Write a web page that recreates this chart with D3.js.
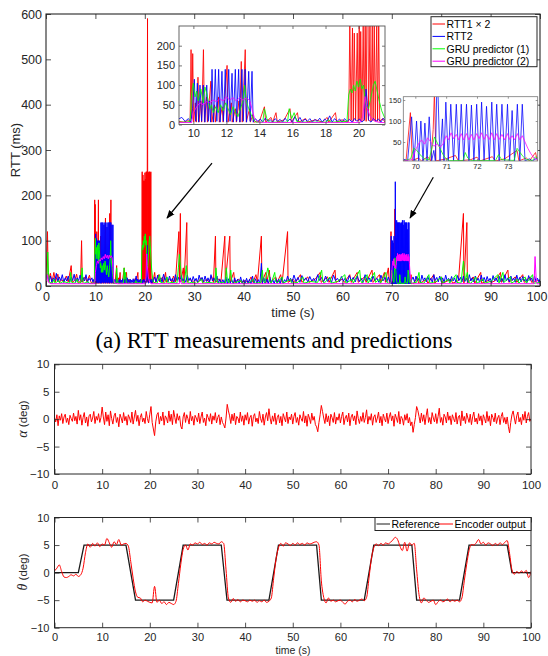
<!DOCTYPE html>
<html>
<head>
<meta charset="utf-8">
<script src="https://cdn.jsdelivr.net/npm/d3@7"></script>
<style>
body { margin: 0; background: #fff; }
svg { display: block; font-family: "Liberation Sans", Arial, sans-serif; }
</style>
</head>
<body>
<script>
'use strict';

// ---- (a) RTT measurements, [time s, RTT ms] ----
var rtt1 = [
	[0,12],[0.3,120],[0.45,10],[0.9,28],[1.2,8],[1.6,30],[1.9,9],[2.4,26],[2.7,8],[3.2,14],[3.6,8],[4.1,22],[4.5,9],[5.1,45],[5.3,8],[5.8,12],[6.2,26],[6.5,8],[7.0,10],[7.2,100],[7.35,8],[7.9,20],[8.3,9],[8.8,24],[9.1,8],
	[9.4,6],[9.7,10],[9.8,5],[9.86,190],[9.91,15],[9.96,180],[10.02,6],[10.12,55],[10.18,6],[10.28,120],[10.34,6],[10.45,60],[10.5,6],[10.61,190],[10.67,6],[10.8,70],[10.85,6],[11.06,110],[11.12,6],[11.28,50],[11.33,6],[11.52,70],[11.57,6],[11.75,45],[11.8,6],[12.04,150],[12.1,6],[12.3,55],[12.35,6],[12.55,40],[12.6,6],[12.76,60],[12.81,6],[12.9,160],[12.96,6],[13.14,190],[13.2,6],[13.4,40],[13.45,6],[13.6,25],[13.65,6],
	[14.0,8],[14.3,45],[14.38,6],[14.7,18],[14.8,6],[15.0,30],[15.08,6],[15.5,12],[15.85,40],[15.93,6],[16.3,30],[16.38,6],[16.8,15],[16.9,6],[17.4,12],[17.8,6],[18.1,18],[18.2,6],[18.6,30],[18.68,6],[19.0,12],[19.3,6],
	[19.4,8],[19.47,252],[19.55,10],[19.63,245],[19.68,8],[19.74,232],[19.82,10],[19.92,232],[19.98,8],[20.04,250],[20.09,10],[20.13,236],[20.2,8],[20.28,252],[20.34,10],[20.4,252],[20.46,8],[20.55,590],[20.6,10],[20.69,250],[20.75,8],[20.83,252],[20.88,10],[20.95,252],[21.01,8],[21.1,250],[21.15,8],[21.22,252],[21.28,8],[21.45,15],[21.6,6],
	[22.0,30],[22.2,8],[22.8,25],[23.0,9],[23.6,20],[23.8,8],[24.2,30],[24.4,8],[25.0,16],[25.5,8],[25.8,22],[26.2,9],[26.9,120],[27.0,9],[27.2,160],[27.3,9],[27.8,40],[27.95,8],[28.5,140],[28.6,8],[29.2,16],[29.6,8],[30.2,14],[30.8,8],[31.4,18],[31.8,8],[32.5,15],[33.0,8],[33.5,22],[33.9,8],[34.3,110],[34.4,8],[35.0,16],[35.4,8],[36.2,110],[36.3,8],[37.2,110],[37.3,8],[38.0,30],[38.2,8],[39.0,15],[39.5,8],
	[40.3,12],[41.0,8],[41.5,20],[41.9,8],[42.5,25],[42.8,8],[43.6,110],[43.7,8],[44.5,30],[44.7,8],[45.2,35],[45.4,8],[46.5,20],[46.8,8],[47.5,25],[47.8,8],[48.9,120],[49.0,8],[50.0,15],[50.5,8],[51.5,25],[51.8,8],[53.0,20],[53.3,8],[54.5,15],[55.5,30],[55.7,8],[57.0,20],[57.3,8],[58.5,35],[58.7,8],[60.0,15],[60.4,8],[61.5,25],[61.8,8],[63.0,30],[63.2,8],[64.5,20],[64.8,8],[66.0,35],[66.2,8],[67.5,25],[67.8,8],[68.5,30],[68.7,8],[69.3,40],[69.5,8],
	[69.7,6],[69.84,120],[69.9,6],[70.1,12],[70.2,5],[70.4,15],[70.5,5],[70.58,80],[70.62,170],[70.67,5],[71.0,10],[71.3,18],[71.4,5],[71.8,8],[72.0,14],[72.1,5],[72.5,15],[72.6,5],[72.9,10],[73.3,30],[73.36,5],[73.6,12],[73.7,5],[73.9,25],[73.96,5],
	[74.5,6],[75.2,20],[75.4,6],[76.0,8],[77.0,15],[77.3,6],[78.5,25],[78.7,6],[80.0,20],[80.3,6],[82.0,15],[82.3,6],[83.5,12],[84.5,160],[84.6,6],[85.2,140],[85.3,6],[86.5,20],[86.8,6],[88.0,30],[88.2,6],[89.5,12],[90.2,8],[91.0,12],[92.0,30],[92.2,8],[93.5,35],[93.7,8],[95.0,20],[95.3,8],[96.5,25],[96.8,8],[98.0,20],[98.3,8],[99.5,12],[100,10]
];

var rtt2 = [
	[0,15],[0.3,25],[0.6,10],[0.9,22],[1.2,8],[1.5,18],[1.8,12],[2.1,28],[2.4,9],[2.7,20],[3.0,12],[3.3,25],[3.6,8],[3.9,18],[4.2,11],[4.5,22],[4.8,9],[5.1,20],[5.4,12],[5.7,26],[6.0,8],[6.3,18],[6.6,12],[6.9,24],[7.2,9],[7.5,19],[7.8,11],[8.1,25],[8.4,8],[8.7,17],[9.0,12],
	[9.3,18],[9.5,8],[9.7,15],[9.85,6],[9.95,40],[10.06,115],[10.14,8],[10.24,105],[10.32,6],[10.4,100],[10.5,8],[10.6,100],[10.7,6],[10.81,100],[10.9,8],[10.98,60],[11.04,6],[11.13,140],[11.22,6],[11.33,140],[11.42,8],[11.53,140],[11.62,6],[11.73,135],[11.82,8],[11.93,140],[12.02,6],[12.14,140],[12.22,8],[12.34,130],[12.42,6],[12.54,140],[12.62,8],[12.74,140],[12.82,6],[12.94,140],[13.02,8],[13.13,140],[13.22,6],[13.35,135],[13.44,8],[13.55,135],[13.62,6],
	[13.75,15],[13.9,8],[14.05,14],[14.2,6],[14.35,16],[14.5,8],[14.65,12],[14.8,6],[14.95,15],[15.1,8],[15.25,13],[15.4,6],[15.55,16],[15.7,8],[15.85,14],[16.0,6],[16.15,20],[16.3,8],[16.45,18],[16.6,6],[16.75,14],[16.9,8],[17.05,15],[17.2,6],[17.35,13],[17.5,8],[17.65,16],[17.8,6],[17.95,14],[18.1,8],[18.25,22],[18.4,6],[18.55,15],[18.7,8],[18.85,14],[19.0,6],[19.15,15],[19.3,8],[19.45,13],[19.6,6],[19.75,15],[19.9,8],[20.05,14],[20.2,6],[20.35,12],[20.45,90],[20.52,60],[20.6,12],[20.75,6],[20.9,15],[21.05,8],[21.2,14],[21.35,6],[21.5,16],[21.65,8],
	[22.0,20],[22.3,9],[22.6,24],[22.9,11],[23.2,18],[23.5,8],[23.8,26],[24.1,12],[24.4,20],[24.7,9],[25.0,22],[25.3,11],[25.6,17],[25.9,8],[26.2,25],[26.5,12],[26.8,19],[27.1,9],[27.4,23],[27.7,11],[28.0,16],[28.3,8],[28.6,24],[28.9,12],[29.2,18],[29.5,9],[29.8,21],[30.1,11],[30.4,17],[30.7,8],[31.0,24],[31.3,12],[31.6,19],[31.9,9],[32.2,22],[32.5,10],[32.8,18],[33.1,8],[33.4,25],[33.7,11],[34.0,18],[34.3,9],[34.6,22],[34.9,7],
	[35.2,15],[35.5,5],[35.8,14],[36.1,6],[36.4,20],[36.7,5],[37.0,16],[37.3,6],[37.6,14],[37.9,5],[38.2,18],[38.5,6],[38.8,15],[39.1,5],[39.4,20],[39.7,6],[40.0,14],[40.3,5],[40.6,17],[40.9,6],[41.2,15],[41.5,5],[41.8,22],[42.1,6],[42.4,16],[42.7,5],[43.0,14],[43.3,6],[43.6,50],[43.8,5],[44.1,18],[44.4,6],[44.7,15],[45.0,5],[45.3,20],[45.6,6],[45.9,14],[46.2,5],[46.5,17],[46.8,6],[47.1,15],[47.4,5],[47.7,19],[48.0,6],[48.3,14],[48.6,9],[48.9,22],[49.2,11],[49.5,17],[49.8,8],
	[50.2,24],[50.6,10],[51.0,19],[51.4,8],[51.8,23],[52.2,12],[52.6,18],[53.0,9],[53.4,21],[53.8,11],[54.2,17],[54.6,8],[55.0,25],[55.4,12],[55.8,19],[56.2,9],[56.6,22],[57.0,10],[57.4,18],[57.8,8],[58.2,24],[58.6,12],[59.0,17],[59.4,9],[59.8,21],[60.2,11],[60.6,18],[61.0,8],[61.4,23],[61.8,12],[62.2,19],[62.6,9],[63.0,22],[63.4,10],[63.8,17],[64.2,8],[64.6,25],[65.0,11],[65.4,18],[65.8,9],[66.2,22],[66.6,12],[67.0,17],[67.4,8],[67.8,24],[68.2,11],[68.6,19],[69.0,9],[69.3,20],
	[69.6,10],[69.75,5],[69.88,110],[69.96,5],[70.04,100],[70.11,5],[70.18,100],[70.25,5],[70.31,95],[70.38,5],[70.45,110],[70.53,5],[70.6,30],[70.65,5],[70.71,230],[70.8,5],[70.88,105],[70.93,5],[70.99,145],[71.07,5],[71.15,140],[71.24,5],[71.33,140],[71.41,5],[71.49,140],[71.57,5],[71.66,140],[71.74,5],[71.82,138],[71.9,5],[71.99,140],[72.07,5],[72.15,145],[72.23,5],[72.31,135],[72.4,5],[72.48,145],[72.56,5],[72.64,140],[72.72,5],[72.81,140],[72.9,5],[72.99,140],[73.06,5],[73.14,125],[73.22,5],[73.31,140],[73.39,5],[73.47,140],[73.56,5],[73.7,10],[73.8,5],[73.95,12],
	[74.3,20],[74.6,9],[74.9,22],[75.2,11],[75.5,17],[75.8,8],[76.1,24],[76.4,12],[76.7,18],[77.0,9],[77.3,21],[77.6,11],[77.9,17],[78.2,8],[78.5,25],[78.8,12],[79.1,19],[79.4,9],[79.7,22],[80.0,10],[80.3,18],[80.6,8],[80.9,24],[81.2,12],[81.5,17],[81.8,9],[82.1,21],[82.4,11],[82.7,18],[83.0,8],[83.3,23],[83.6,12],[83.9,19],[84.2,9],[84.5,22],[84.8,10],[85.1,17],[85.4,8],[85.7,25],[86.0,11],[86.3,18],[86.6,9],[86.9,22],[87.2,12],[87.5,17],[87.8,8],
	[88.1,24],[88.4,11],[88.7,19],[89.0,9],[89.3,21],[89.6,11],[89.9,17],[90.2,8],[90.5,23],[90.8,12],[91.1,18],[91.4,9],[91.7,22],[92.0,10],[92.3,17],[92.6,8],[92.9,25],[93.2,11],[93.5,18],[93.8,9],[94.1,22],[94.4,12],[94.7,17],[95.0,8],[95.3,24],[95.6,11],[95.9,19],[96.2,9],[96.5,21],[96.8,11],[97.1,17],[97.4,8],[97.7,23],[98.0,12],[98.3,18],[98.6,9],[98.9,22],[99.2,10],[99.5,17],[99.8,9],[100,15]
];

var gru1 = [
	[0,8],[0.2,20],[0.35,75],[0.5,30],[0.7,8],[1.3,6],[1.6,15],[1.8,6],[2.6,12],[2.8,6],[3.5,10],[4.8,6],[5.0,30],[5.2,8],[5.8,6],[6.3,15],[6.5,6],[7.1,8],[7.3,40],[7.5,10],[7.8,6],[8.5,10],[8.7,6],[9.3,6],
	[9.6,6],[9.8,8],[9.9,80],[10.0,105],[10.1,70],[10.2,85],[10.3,60],[10.45,90],[10.6,55],[10.7,95],[10.8,80],[10.9,60],[11.0,40],[11.1,50],[11.2,30],[11.35,45],[11.5,30],[11.65,50],[11.8,35],[11.95,55],[12.1,40],[12.25,25],[12.4,45],[12.55,30],[12.7,20],[12.85,40],[13.0,60],[13.1,100],[13.2,60],[13.35,40],[13.5,25],[13.65,12],[13.8,6],
	[14.2,6],[14.3,40],[14.45,15],[14.6,6],[15.7,6],[15.8,40],[15.95,15],[16.1,30],[16.25,8],[16.5,6],[18.0,6],[18.2,12],[18.35,6],[19.3,8],
	[19.4,75],[19.5,90],[19.6,80],[19.7,100],[19.8,85],[19.9,110],[20.0,95],[20.1,115],[20.2,90],[20.3,100],[20.4,60],[20.5,45],[20.6,40],[20.7,60],[20.8,80],[20.9,100],[21.0,110],[21.1,90],[21.25,60],[21.4,35],[21.6,15],[21.8,8],
	[22.5,6],[23.0,25],[23.2,8],[24.0,6],[24.5,20],[24.7,6],[25.5,8],[26.5,6],[26.8,40],[27.0,70],[27.2,45],[27.4,20],[27.6,8],[28.0,6],[28.4,45],[28.6,20],[28.8,6],[29.5,8],[30.5,6],[31.5,15],[31.7,6],[33.0,8],[34.2,6],[34.4,40],[34.6,15],[34.8,6],[35.5,8],[36.3,6],[36.5,40],[36.7,15],[37.0,6],[37.4,35],[37.6,10],[38.0,6],[39.5,12],[39.7,6],
	[41.0,6],[42.0,15],[42.2,6],[43.5,8],[43.8,35],[44.0,12],[44.3,6],[44.9,40],[45.1,30],[45.3,10],[45.6,6],[46.3,30],[46.5,10],[46.8,6],[47.8,20],[48.0,6],[49.5,15],[49.7,6],[51.0,8],[52.0,20],[52.2,6],[53.5,10],[55.0,8],[55.8,35],[56.0,12],[56.3,6],[57.5,20],[57.7,6],[59.0,10],[60.5,25],[60.7,6],[62.0,15],[62.2,6],[63.5,35],[63.7,12],[64.0,6],[65.0,25],[65.2,6],[66.5,30],[66.7,8],[67.5,15],[67.7,6],[68.8,30],[69.0,8],[69.4,6],
	[69.6,5],[69.85,10],[69.95,35],[70.05,30],[70.15,20],[70.3,10],[70.45,8],[70.55,40],[70.62,62],[70.7,50],[70.8,35],[70.9,20],[71.0,10],[71.1,6],[71.55,6],[71.62,25],[71.7,12],[71.8,6],[72.6,6],[72.7,20],[72.8,8],[73.2,6],[73.3,35],[73.4,25],[73.5,15],[73.6,8],[73.8,6],[73.9,15],[74.0,6],
	[75.0,8],[75.5,30],[75.7,8],[76.5,6],[77.5,25],[77.7,6],[79.0,10],[80.0,20],[80.2,6],[81.5,15],[81.7,6],[83.0,25],[83.2,8],[84.0,6],[84.5,55],[84.7,35],[84.9,12],[85.3,30],[85.5,8],[86.0,6],[87.0,20],[87.2,6],[88.5,15],[88.7,6],[90.0,10],[91.5,25],[91.7,6],[92.5,30],[92.7,8],[94.0,20],[94.2,6],[95.5,15],[95.7,6],[97.0,20],[97.2,6],[98.5,25],[98.7,6],[100,8]
];

var gru2 = [
	[0,5],[0.3,25],[0.5,8],[1,5],[9.9,5],[10.0,30],[10.2,45],[10.4,55],[10.6,50],[10.8,58],[11.0,55],[11.2,62],[11.4,58],[11.6,65],[11.8,60],[12.0,70],[12.2,62],[12.4,68],[12.6,60],[12.8,68],[13.0,62],[13.2,67],[13.4,62],[13.55,40],[13.7,15],[13.9,6],[14.5,5],
	[20.1,5],[20.25,20],[20.39,71],[20.5,45],[20.7,20],[21.0,8],[21.3,5],[27.0,5],[27.2,15],[27.4,5],
	[69.6,5],[69.9,8],[70.0,30],[70.1,45],[70.2,55],[70.3,45],[70.4,60],[70.5,50],[70.6,40],[70.7,45],[70.8,38],[70.9,45],[71.0,65],[71.08,55],[71.16,72],[71.24,58],[71.33,68],[71.41,55],[71.49,70],[71.57,55],[71.66,70],[71.74,55],[71.82,68],[71.9,55],[71.99,70],[72.07,58],[72.15,72],[72.23,56],[72.31,68],[72.4,56],[72.48,72],[72.56,55],[72.64,70],[72.72,56],[72.81,68],[72.9,55],[72.99,70],[73.06,56],[73.14,65],[73.22,55],[73.31,70],[73.39,55],[73.47,65],[73.56,50],[73.65,35],[73.75,22],[73.85,12],[74.0,6],[74.3,5],
	[98.8,5],[99.0,65],[99.2,20],[99.4,5],[100,5]
];

var rttNames = ['RTT1 \u00d7 2', 'RTT2', 'GRU predictor (1)', 'GRU predictor (2)'];
var rttColors = ['#ff0000', '#0000ff', '#00ff00', '#ff00ff'];
var rttTicksX = [0, 10, 20, 30, 40, 50, 60, 70, 80, 90, 100];
var rttTicksY = [0, 100, 200, 300, 400, 500, 600];
var zoom1TicksX = [10, 12, 14, 16, 18, 20];
var zoom1TicksY = [0, 50, 100, 150, 200];
var zoom2TicksX = [70, 71, 72, 73];
var zoom2TicksY = [50, 100, 150];
// arrows from inset to burst, [time, RTT]
var arrows = [{from: [33.6, 271], to: [24.5, 150]}, {from: [78.4, 240], to: [73.7, 150]}];

// ---- alpha (deg), one sample every 0.25 s ----
var alphaStep = 0.25;
var alpha = [
	0.3,-0.5,0.8,-1.2,0.6,-0.2,1.0,-0.8,0.4,0.9,-0.6,0.2,-1.0,0.7,0.1,-0.4,1.1,-0.3,0.5,-0.9,
	1.6,-0.2,0.8,-1.1,0.3,1.2,-0.7,0.4,-1.3,0.6,0.9,-0.5,0.2,1.4,-0.8,0.5,-0.2,1.0,-0.6,0.3,
	2.2,0.4,-1.0,1.3,-0.4,0.8,-1.2,1.5,0.1,-0.9,0.6,1.1,-0.6,0.3,-1.4,0.9,0.2,-0.7,1.2,-0.3,
	0.5,-1.1,0.8,0.2,-0.6,1.3,-0.9,0.4,1.6,-0.4,0.7,-1.2,0.3,1.0,-0.5,0.2,-0.8,1.4,0.1,-0.7,
	0.9,2.3,-0.6,-1.8,-3.0,-0.5,0.8,1.2,-0.9,0.5,-0.3,1.3,-1.1,0.6,0.2,-0.7,1.5,-0.4,0.9,-1.0,
	1.6,0.3,-0.8,1.0,-0.2,0.6,-1.3,-1.8,0.4,1.2,-0.6,0.8,0.1,-0.9,1.4,-0.3,0.5,-1.1,0.7,0.2,
	-0.5,1.1,-0.8,0.4,1.3,-0.6,0.2,-1.2,0.9,0.3,-0.4,1.0,-0.9,0.6,-0.2,1.2,-0.7,0.3,0.8,-1.0,
	0.4,-0.6,-1.0,-1.6,0.2,2.7,1.5,0.6,-0.8,0.9,-0.3,1.1,-1.0,0.5,0.2,-0.7,1.3,-0.4,0.6,-1.1,
	0.8,-0.2,1.2,-0.9,0.3,0.7,-1.3,0.5,1.0,-0.5,0.2,-0.8,1.4,0.1,-0.6,0.9,-1.1,0.4,1.2,-0.3,
	1.9,0.2,-0.9,0.6,-0.4,1.1,-1.0,0.3,0.8,-0.7,0.5,-1.2,1.0,0.2,-0.5,1.3,-0.8,0.4,-0.1,0.9,
	-0.9,0.5,1.2,-0.6,0.3,-1.1,0.8,0.1,-0.4,1.4,-0.7,0.6,-1.3,0.9,0.2,-0.8,1.1,-0.2,0.5,-1.0,
	-1.4,-2.3,-0.6,0.8,2.5,1.4,0.2,-0.8,1.0,-0.5,0.6,-1.2,0.9,0.3,-0.6,1.2,-0.9,0.4,-0.2,1.0,
	-0.7,0.5,1.3,-1.0,0.2,0.7,-0.5,1.1,-1.2,0.4,0.9,-0.3,0.6,-1.0,1.5,0.1,-0.8,0.5,-0.4,1.2,
	-0.6,0.3,1.7,-0.9,0.5,-0.2,1.0,-1.1,0.4,0.8,-0.6,0.2,1.3,-0.7,0.5,-1.2,0.9,0.1,-0.5,1.1,
	-0.8,0.4,1.2,-0.3,0.6,-1.3,0.9,0.2,-0.6,1.4,-0.9,0.5,0.1,-1.1,0.8,-0.2,1.0,-0.7,0.3,-1.2,
	-0.5,-2.4,-1.0,0.3,2.3,1.6,0.5,-0.7,1.1,-0.4,0.8,-1.0,0.6,1.9,-0.6,0.3,-0.9,1.2,0.2,-0.5,
	1.0,-0.8,0.5,2.0,-0.6,0.3,-1.1,0.9,0.4,-0.7,1.3,-0.2,0.6,-1.0,0.8,0.1,-0.5,1.2,-0.9,0.4,
	0.7,-1.2,1.5,-0.3,0.5,-0.8,1.1,0.2,-0.6,0.9,-1.0,0.4,1.3,-0.5,0.2,-0.9,1.0,-0.3,0.6,-1.1,
	0.8,0.1,-0.7,1.4,-0.4,0.6,-1.2,0.9,0.3,-0.5,1.1,-0.8,0.2,0.7,-1.0,0.5,1.2,-0.6,0.3,-0.9,
	0.4,-1.3,-2.5,-0.6,0.8,1.5,0.2,-0.9,0.6,1.3,-0.5,0.3,-1.0,0.9,-0.2,1.4,-0.7,0.5,1.2,-0.4,
	0.1
];

// ---- theta (deg) ----
var refTime = [0, 5, 6.2, 15, 17, 25, 27, 35, 36.2, 45, 47, 55, 56, 65, 67, 75, 76, 85, 87, 95, 96, 100];
var refTheta = [0, 0, 5, 5, -5, -5, 5, 5, -5, -5, 5, 5, -5, -5, 5, 5, -5, -5, 5, 5, 0, 0];
var encStep = 0.5;
var encTheta = [
	0.3,0.8,1.4,0.2,-0.8,-0.9,-0.7,-0.4,-0.6,-0.3,
	-0.7,-0.4,0.8,3.6,5.2,4.6,5.3,4.8,5.4,4.7,
	5.2,5.0,6.2,5.4,4.6,5.6,5.1,6.0,5.0,5.2,
	5.3,4.8,2.0,-1.0,-3.5,-4.5,-4.6,-5.3,-5.0,-5.2,
	-5.4,-5.5,-2.5,-5.4,-5.0,-5.6,-5.3,-5.8,-5.4,-5.6,
	-5.8,-5.2,-2.0,1.5,4.2,5.0,4.1,5.2,5.0,5.4,
	5.2,5.5,5.1,5.3,5.0,5.4,5.2,5.5,5.3,5.2,
	5.6,5.3,0.5,-4.6,-5.4,-4.7,-5.2,-4.9,-5.3,-5.0,
	-5.1,-5.3,-5.0,-5.2,-5.0,-5.4,-5.1,-5.3,-5.0,-5.4,
	-5.2,-4.6,-1.0,2.5,4.5,5.3,4.8,5.4,5.2,4.9,
	5.3,5.0,5.4,5.1,5.3,5.0,5.4,5.2,5.3,5.5,
	5.6,5.0,-1.5,-4.5,-5.5,-4.6,-5.2,-5.0,-5.3,-5.1,
	-5.0,-5.4,-5.7,-5.2,-5.0,-5.3,-4.9,-5.2,-5.0,-4.8,
	-5.1,-4.5,-1.0,2.5,4.5,5.2,4.9,5.3,5.0,5.4,
	5.2,5.5,5.9,6.4,6.0,4.8,4.0,5.5,3.9,5.4,
	5.0,5.3,0.5,-4.0,-5.5,-4.6,-5.0,-5.4,-5.2,-5.0,
	-5.8,-5.3,-5.0,-5.3,-5.1,-4.8,-5.3,-5.0,-5.2,-5.0,
	-5.3,-4.6,-1.5,1.5,4.0,5.1,5.0,5.4,6.0,5.2,
	5.5,5.0,5.4,5.2,4.9,5.3,5.0,5.4,5.1,5.5,
	5.8,3.5,0.5,-0.3,0.2,-0.1,0.3,0.0,0.4,-0.9,
	0.2
];
var degTicks = [-10, -5, 0, 5, 10];
var timeTicks = [0, 10, 20, 30, 40, 50, 60, 70, 80, 90, 100];

var W = 548, H = 656;
var ink = '#262626';
var svg = d3.select('body').append('svg').attr('width', W).attr('height', H);
svg.append('defs').append('marker')
	.attr('id', 'head').attr('viewBox', '0 0 10 10').attr('refX', 9).attr('refY', 5)
	.attr('markerWidth', 7).attr('markerHeight', 7).attr('orient', 'auto-start-reverse')
	.append('path').attr('d', 'M0,1 L10,5 L0,9 z').attr('fill', '#000');

var clipN = 0;
function clip(x, y) {
	var id = 'c' + (clipN++);
	svg.select('defs').append('clipPath').attr('id', id).append('rect')
		.attr('x', x.range()[0]).attr('y', y.range()[1])
		.attr('width', x.range()[1] - x.range()[0]).attr('height', y.range()[0] - y.range()[1]);
	return 'url(#' + id + ')';
}

// box with inward ticks on all four sides (MATLAB style)
function axes(g, x, y, o) {
	var L = x.range()[0], R = x.range()[1], B = y.range()[0], T = y.range()[1];
	var fmt = d3.format('d');
	var sides = [
		[d3.axisBottom(x).tickValues(o.xt).tickFormat(fmt).tickPadding(o.padX), 'translate(0,' + B + ')'],
		[d3.axisTop(x).tickValues(o.xt).tickFormat(''), 'translate(0,' + T + ')'],
		[d3.axisLeft(y).tickValues(o.yt).tickFormat(d => d < 0 ? '\u2212' + (-d) : d).tickPadding(o.padY), 'translate(' + L + ',0)'],
		[d3.axisRight(y).tickValues(o.yt).tickFormat(''), 'translate(' + R + ',0)']
	];
	var out = [];
	sides.forEach(function(s) {
		var a = g.append('g').attr('transform', s[1]).call(s[0].tickSize(-o.tl));
		a.select('.domain').remove();
		a.selectAll('line').attr('stroke', o.color).attr('stroke-width', 0.8);
		a.selectAll('text').attr('fill', ink).style('font-size', o.fs + 'px')
			.style('font-family', '"Liberation Sans", Arial, sans-serif');
		out.push(a);
	});
	g.append('rect').attr('x', L).attr('y', T).attr('width', R - L).attr('height', B - T)
		.attr('fill', 'none').attr('stroke', o.color).attr('stroke-width', o.sw || 1);
	return out;
}

function drawSeries(g, x, y, series, width, opacity) {
	var line = d3.line().x(d => x(d[0])).y(d => y(d[1]));
	var cp = clip(x, y);
	var lg = g.append('g').attr('clip-path', cp);
	series.forEach(function(s, i) {
		lg.append('path').datum(s).attr('d', line)
			.attr('fill', 'none').attr('stroke', rttColors[i])
			.attr('stroke-width', width).attr('stroke-opacity', opacity)
			.attr('stroke-linejoin', 'round');
	});
}

var rttSeries = [rtt1, rtt2, gru1, gru2];

// ---------- (a) main RTT plot ----------
var x0 = d3.scaleLinear().domain([0, 100]).range([46, 540]);
var y0 = d3.scaleLinear().domain([0, 600]).range([286, 14]);
var gA = svg.append('g');
drawSeries(gA, x0, y0, rttSeries, 1, 1);
var mainAx = axes(gA, x0, y0, {xt: rttTicksX, yt: rttTicksY, tl: 5, padX: 6, padY: 4, fs: 12.5, color: ink, sw: 1.1});
// last x label sits at the page edge: keep it inside the page
mainAx[0].selectAll('.tick').filter(d => d === 100).select('text')
	.attr('text-anchor', 'end').attr('x', 547 - x0(100));
gA.append('text').attr('x', 293).attr('y', 317).attr('text-anchor', 'middle')
	.attr('fill', ink).style('font-size', '13px').text('time (s)');
gA.append('text').attr('transform', 'translate(20,150) rotate(-90)').attr('text-anchor', 'middle')
	.attr('fill', ink).style('font-size', '13px').text('RTT (ms)');

// arrows
arrows.forEach(function(a) {
	gA.append('line')
		.attr('x1', x0(a.from[0])).attr('y1', y0(a.from[1]))
		.attr('x2', x0(a.to[0])).attr('y2', y0(a.to[1]))
		.attr('stroke', '#000').attr('stroke-width', 1.2).attr('marker-end', 'url(#head)');
});

// inset 1 : 9-22 s
var x1 = d3.scaleLinear().domain([9.13, 21.6]).range([179, 385]);
var y1 = d3.scaleLinear().domain([0, 250]).range([124.5, 26]);
var gI1 = svg.append('g');
gI1.append('rect').attr('x', 179).attr('y', 26).attr('width', 206).attr('height', 98.5).attr('fill', '#fff');
drawSeries(gI1, x1, y1, rttSeries, 1, 0.85);
axes(gI1, x1, y1, {xt: zoom1TicksX, yt: zoom1TicksY, tl: 3, padX: 5, padY: 4, fs: 11, color: '#555', sw: 0.9});

// inset 2 : 69.6-74 s
var x2 = d3.scaleLinear().domain([69.61, 73.97]).range([403.3, 537.7]);
var y2 = d3.scaleLinear().domain([4.8, 157.9]).range([161, 96.7]);
var gI2 = svg.append('g');
gI2.append('rect').attr('x', 403.3).attr('y', 96.7).attr('width', 134.4).attr('height', 64.3).attr('fill', '#fff');
drawSeries(gI2, x2, y2, rttSeries, 0.9, 0.85);
axes(gI2, x2, y2, {xt: zoom2TicksX, yt: zoom2TicksY, tl: 2, padX: 3, padY: 2, fs: 7.5, color: '#777', sw: 0.8});

// legend
var leg = svg.append('g');
leg.append('rect').attr('x', 431).attr('y', 16.7).attr('width', 106).attr('height', 50)
	.attr('fill', '#fff').attr('stroke', ink).attr('stroke-width', 1);
rttNames.forEach(function(n, i) {
	var yy = 24 + i * 12.4;
	leg.append('line').attr('x1', 432.5).attr('x2', 445).attr('y1', yy).attr('y2', yy)
		.attr('stroke', rttColors[i]).attr('stroke-width', 1);
	leg.append('text').attr('x', 446.5).attr('y', yy + 3.8).attr('fill', '#000')
		.style('font-size', '10.5px').text(n);
});

svg.append('text').attr('x', 274).attr('y', 348).attr('text-anchor', 'middle')
	.style('font-family', '"Liberation Serif", "Times New Roman", serif').style('font-size', '23px')
	.attr('fill', '#000').text('(a) RTT measurements and predictions');

// ---------- alpha ----------
var xb = d3.scaleLinear().domain([0, 100]).range([54.5, 531]);
var ya = d3.scaleLinear().domain([-10, 10]).range([474, 364.3]);
var gAl = svg.append('g');
var alphaPts = alpha.map((v, i) => [i * alphaStep, v]);
gAl.append('path').datum(alphaPts).attr('clip-path', clip(xb, ya))
	.attr('d', d3.line().x(d => xb(d[0])).y(d => ya(d[1])))
	.attr('fill', 'none').attr('stroke', '#ff0000').attr('stroke-width', 1);
axes(gAl, xb, ya, {xt: timeTicks, yt: degTicks, tl: 5, padX: 7, padY: 5, fs: 11.5, color: ink, sw: 1});
var alphaLab = gAl.append('text').attr('transform', 'translate(27,419) rotate(-90)').attr('text-anchor', 'middle')
	.attr('fill', ink).style('font-size', '11.5px');
alphaLab.append('tspan').style('font-style', 'italic').style('font-family', '"Liberation Serif", serif').style('font-size', '14px').text('\u03b1');
alphaLab.append('tspan').text(' (deg)');

// ---------- theta ----------
var yt = d3.scaleLinear().domain([-10, 10]).range([627.7, 517.5]);
var gTh = svg.append('g');
var refPts = refTime.map((t, i) => [t, refTheta[i]]);
var encPts = encTheta.map((v, i) => [i * encStep, v]);
var lineT = d3.line().x(d => xb(d[0])).y(d => yt(d[1]));
var cpT = clip(xb, yt);
gTh.append('path').datum(refPts).attr('clip-path', cpT).attr('d', lineT)
	.attr('fill', 'none').attr('stroke', '#1a1a1a').attr('stroke-width', 1.3);
gTh.append('path').datum(encPts).attr('clip-path', cpT).attr('d', lineT.curve(d3.curveMonotoneX))
	.attr('fill', 'none').attr('stroke', '#ff0000').attr('stroke-width', 1);
axes(gTh, xb, yt, {xt: timeTicks, yt: degTicks, tl: 5, padX: 5.5, padY: 5, fs: 11, color: ink, sw: 1});
var thLab = gTh.append('text').attr('transform', 'translate(27,572) rotate(-90)').attr('text-anchor', 'middle')
	.attr('fill', ink).style('font-size', '11.5px');
thLab.append('tspan').style('font-style', 'italic').style('font-family', '"Liberation Serif", serif').style('font-size', '14px').text('\u03b8');
thLab.append('tspan').text(' (deg)');
gTh.append('text').attr('x', 293).attr('y', 653.8).attr('text-anchor', 'middle')
	.attr('fill', ink).style('font-size', '10.5px').text('time (s)');

var leg2 = svg.append('g');
leg2.append('rect').attr('x', 375).attr('y', 517.5).attr('width', 156).attr('height', 13)
	.attr('fill', '#fff').attr('stroke', ink).attr('stroke-width', 1);
[['Reference', '#1a1a1a', 376.5, 390], ['Encoder output', '#ff0000', 439, 453]].forEach(function(e) {
	leg2.append('line').attr('x1', e[2]).attr('x2', e[3]).attr('y1', 524).attr('y2', 524)
		.attr('stroke', e[1]).attr('stroke-width', 1);
	leg2.append('text').attr('x', e[3] + 1.5).attr('y', 527.8).attr('fill', '#000')
		.style('font-size', '10.5px').text(e[0]);
});
</script>
</body>
</html>
